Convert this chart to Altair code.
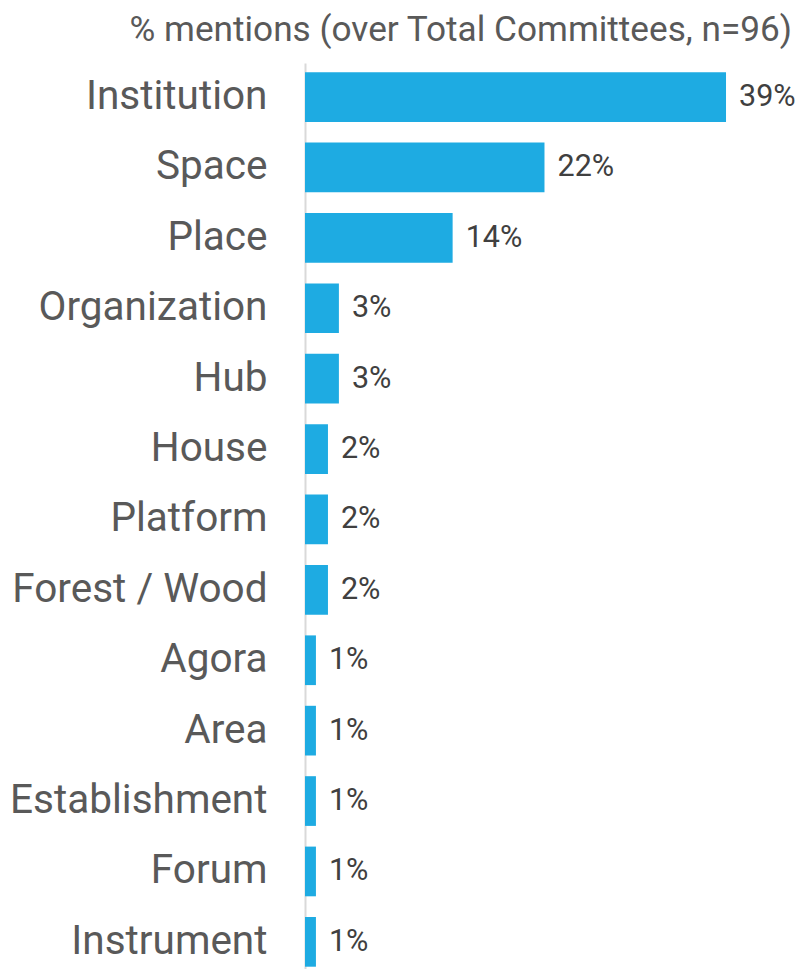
import altair as alt
import pandas as pd

categories = ["Institution", "Space", "Place", "Organization", "Hub", "House",
              "Platform", "Forest / Wood", "Agora", "Area", "Establishment",
              "Forum", "Instrument"]
values = [38.5, 21.9, 13.5, 3.1, 3.1, 2.1, 2.1, 2.1, 1.0, 1.0, 1.0, 1.0, 1.0]
labels = ["39%", "22%", "14%", "3%", "3%", "2%", "2%", "2%", "1%", "1%", "1%", "1%", "1%"]

df = pd.DataFrame({"cat": categories, "val": values, "lab": labels})

FONT = "Roboto"

y = alt.Y("cat:N", sort=categories, title=None,
          scale=alt.Scale(paddingInner=0.294, paddingOuter=0.0817, align=0.8),
          axis=alt.Axis(ticks=False, labelFontSize=40.5, labelFont=FONT,
                        labelColor="#595959", labelPadding=38, labelLimit=0,
                        domainColor="#d9d9d9", domainWidth=2, grid=False))
x = alt.X("val:Q", title=None, scale=alt.Scale(domain=[0, 44.26], nice=False),
          axis=None)

bars = alt.Chart(df).mark_bar(color="#1eabe2").encode(y=y, x=x)
text = alt.Chart(df).mark_text(align="left", baseline="middle", dx=13,
                               fontSize=30.5, font=FONT, color="#404040").encode(
    y=alt.Y("cat:N", sort=categories), x="val:Q", text="lab:N")

chart = (bars + text).properties(
    width=484, height=906,
    title=alt.TitleParams("% mentions (over Total Committees, n=96)",
                          anchor="end", frame="group", fontSize=35.2, font=FONT,
                          fontWeight="normal", color="#595959", offset=15, dx=3),
    autosize=alt.AutoSizeParams(type="none"),
    padding={"left": 297, "top": 55, "right": 7, "bottom": 0},
).configure_view(stroke=None)

chart.save("out.html", embed_options={"renderer": "svg", "actions": False})
